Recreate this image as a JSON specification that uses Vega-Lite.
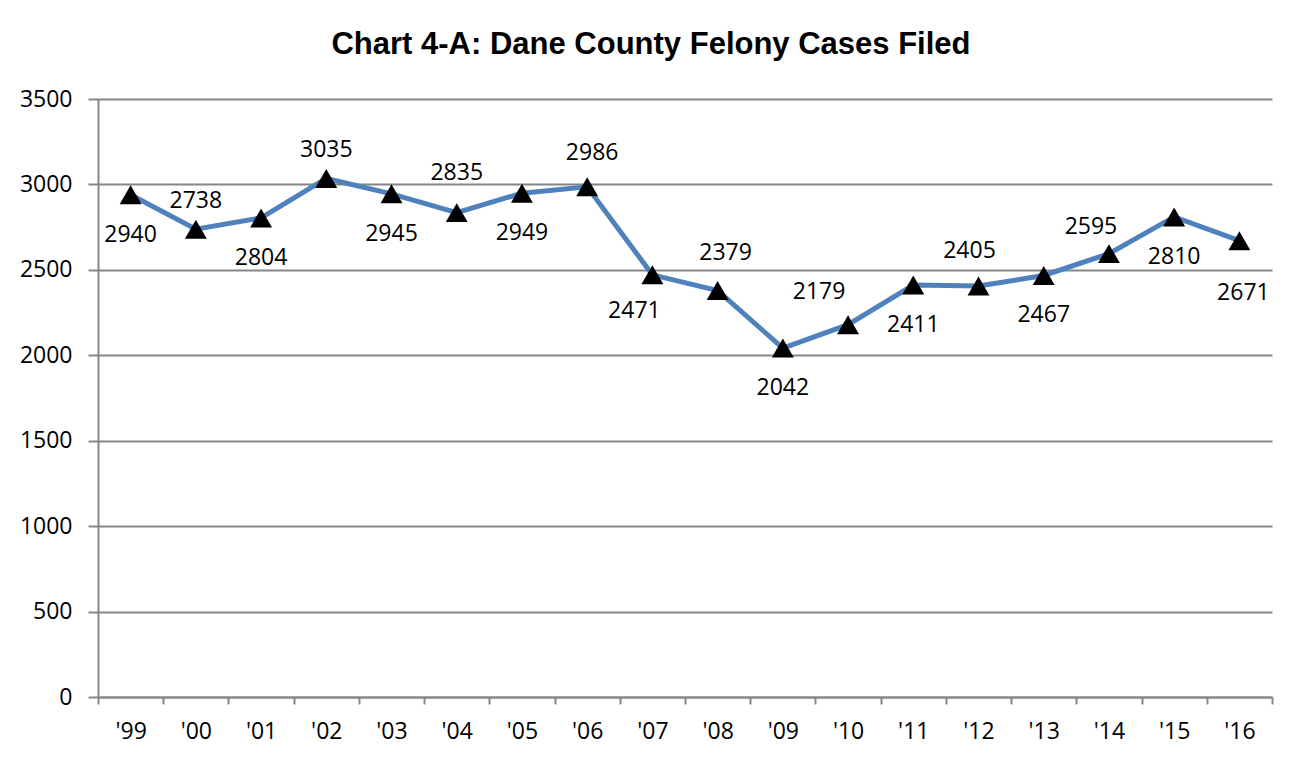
{
  "$schema": "https://vega.github.io/schema/vega-lite/v6.json",
  "autosize": {"type": "none"},
  "width": 1174,
  "height": 598,
  "padding": {"left": 98, "top": 99, "right": 27, "bottom": 66},
  "background": "white",
  "title": {
    "text": "Chart 4-A: Dane County Felony Cases Filed",
    "font": "Liberation Sans",
    "fontSize": 31,
    "fontWeight": "bold",
    "color": "black",
    "anchor": "middle",
    "baseline": "alphabetic",
    "offset": 3,
    "dx": -34
  },
  "config": {
    "view": {"stroke": null},
    "axis": {
      "labelFont": "Open Sans",
      "labelFontSize": 23,
      "labelColor": "black",
      "domainColor": "#868686",
      "domainWidth": 2,
      "tickColor": "#868686",
      "tickWidth": 2,
      "gridColor": "#868686",
      "gridWidth": 2,
      "title": null
    }
  },
  "data": {
    "values": [
      {"year": "'99", "cases": 2940},
      {"year": "'00", "cases": 2738},
      {"year": "'01", "cases": 2804},
      {"year": "'02", "cases": 3035},
      {"year": "'03", "cases": 2945},
      {"year": "'04", "cases": 2835},
      {"year": "'05", "cases": 2949},
      {"year": "'06", "cases": 2986},
      {"year": "'07", "cases": 2471},
      {"year": "'08", "cases": 2379},
      {"year": "'09", "cases": 2042},
      {"year": "'10", "cases": 2179},
      {"year": "'11", "cases": 2411},
      {"year": "'12", "cases": 2405},
      {"year": "'13", "cases": 2467},
      {"year": "'14", "cases": 2595},
      {"year": "'15", "cases": 2810},
      {"year": "'16", "cases": 2671}
    ]
  },
  "encoding": {
    "x": {
      "field": "year",
      "type": "ordinal",
      "sort": null,
      "scale": {"type": "band", "paddingInner": 0, "paddingOuter": 0},
      "axis": {
        "labelAngle": 0,
        "tickBand": "extent",
        "tickSize": 7,
        "labelPadding": 16,
        "labelBaseline": "top",
        "grid": false
      }
    },
    "y": {
      "field": "cases",
      "type": "quantitative",
      "scale": {"domain": [0, 3500], "nice": false},
      "axis": {
        "values": [0, 500, 1000, 1500, 2000, 2500, 3000, 3500],
        "format": "d",
        "tickSize": 10,
        "labelPadding": 16,
        "grid": true,
        "labelBaseline": "middle"
      }
    }
  },
  "layer": [
    {"mark": {"type": "line", "color": "#4F81BD", "strokeWidth": 5}},
    {"mark": {"type": "point", "shape": "triangle-up", "filled": true, "color": "black", "opacity": 1, "size": 480}},
    {
      "transform": [{"filter": {"field": "year", "oneOf": ["'99", "'01", "'03", "'05", "'09", "'11", "'13", "'15"]}}],
      "mark": {"type": "text", "font": "Open Sans", "fontSize": 23, "color": "black", "baseline": "middle", "dy": 40},
      "encoding": {"text": {"field": "cases", "type": "quantitative", "format": "d"}}
    },
    {
      "transform": [{"filter": {"field": "year", "oneOf": ["'07"]}}],
      "mark": {"type": "text", "font": "Open Sans", "fontSize": 23, "color": "black", "baseline": "middle", "dx": -18, "dy": 36},
      "encoding": {"text": {"field": "cases", "type": "quantitative", "format": "d"}}
    },
    {
      "transform": [{"filter": {"field": "year", "oneOf": ["'16"]}}],
      "mark": {"type": "text", "font": "Open Sans", "fontSize": 23, "color": "black", "baseline": "middle", "dx": 4, "dy": 52},
      "encoding": {"text": {"field": "cases", "type": "quantitative", "format": "d"}}
    },
    {
      "transform": [{"filter": {"field": "year", "oneOf": ["'00", "'02"]}}],
      "mark": {"type": "text", "font": "Open Sans", "fontSize": 23, "color": "black", "baseline": "middle", "dy": -28},
      "encoding": {"text": {"field": "cases", "type": "quantitative", "format": "d"}}
    },
    {
      "transform": [{"filter": {"field": "year", "oneOf": ["'14"]}}],
      "mark": {"type": "text", "font": "Open Sans", "fontSize": 23, "color": "black", "baseline": "middle", "dx": -18, "dy": -27},
      "encoding": {"text": {"field": "cases", "type": "quantitative", "format": "d"}}
    },
    {
      "transform": [{"filter": {"field": "year", "oneOf": ["'04"]}}],
      "mark": {"type": "text", "font": "Open Sans", "fontSize": 23, "color": "black", "baseline": "middle", "dy": -40},
      "encoding": {"text": {"field": "cases", "type": "quantitative", "format": "d"}}
    },
    {
      "transform": [{"filter": {"field": "year", "oneOf": ["'06"]}}],
      "mark": {"type": "text", "font": "Open Sans", "fontSize": 23, "color": "black", "baseline": "middle", "dx": 5, "dy": -34},
      "encoding": {"text": {"field": "cases", "type": "quantitative", "format": "d"}}
    },
    {
      "transform": [{"filter": {"field": "year", "oneOf": ["'08"]}}],
      "mark": {"type": "text", "font": "Open Sans", "fontSize": 23, "color": "black", "baseline": "middle", "dx": 8, "dy": -38},
      "encoding": {"text": {"field": "cases", "type": "quantitative", "format": "d"}}
    },
    {
      "transform": [{"filter": {"field": "year", "oneOf": ["'10"]}}],
      "mark": {"type": "text", "font": "Open Sans", "fontSize": 23, "color": "black", "baseline": "middle", "dx": -29, "dy": -33},
      "encoding": {"text": {"field": "cases", "type": "quantitative", "format": "d"}}
    },
    {
      "transform": [{"filter": {"field": "year", "oneOf": ["'12"]}}],
      "mark": {"type": "text", "font": "Open Sans", "fontSize": 23, "color": "black", "baseline": "middle", "dx": -9, "dy": -35},
      "encoding": {"text": {"field": "cases", "type": "quantitative", "format": "d"}}
    }
  ]
}
